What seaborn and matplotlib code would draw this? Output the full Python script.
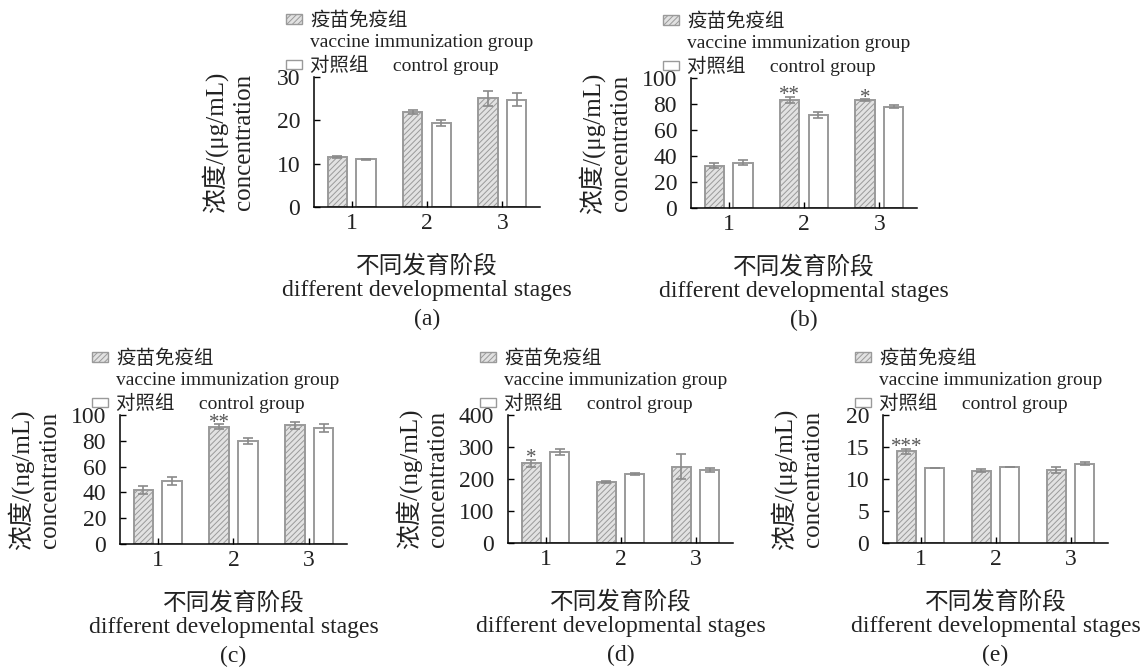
import matplotlib
matplotlib.use("Agg")
import matplotlib.pyplot as plt
import seaborn as sns
import pandas as pd
from matplotlib.patches import Patch

# ---- data -------------------------------------------------------------
stages = ["1", "2", "3"]
groups = ["疫苗免疫组", "对照组"]

# (a)
a_vacc = [11.6, 21.9, 25.1]
a_vacc_err = [0.2, 0.5, 1.7]
a_ctrl = [11.0, 19.4, 24.8]
a_ctrl_err = [0.1, 0.75, 1.55]
a_stars = ["", "", ""]

# (b)
b_vacc = [32.6, 83.3, 82.8]
b_vacc_err = [1.9, 2.2, 0.8]
b_ctrl = [35.0, 71.6, 77.9]
b_ctrl_err = [2.1, 2.2, 1.2]
b_stars = ["", "**", "*"]

# (c)
c_vacc = [41.9, 91.0, 92.0]
c_vacc_err = [2.8, 1.8, 2.6]
c_ctrl = [48.8, 80.1, 89.7]
c_ctrl_err = [2.8, 2.2, 3.1]
c_stars = ["", "**", ""]

# (d)
d_vacc = [249, 192, 239]
d_vacc_err = [10, 3, 39]
d_ctrl = [284, 216, 229]
d_ctrl_err = [10, 2, 6]
d_stars = ["*", "", ""]

# (e)
e_vacc = [14.3, 11.3, 11.4]
e_vacc_err = [0.4, 0.25, 0.4]
e_ctrl = [11.7, 11.85, 12.4]
e_ctrl_err = [0.05, 0.05, 0.25]
e_stars = ["***", "", ""]

units = {"a": "浓度/(μg/mL)", "b": "浓度/(μg/mL)", "c": "浓度/(ng/mL)",
         "d": "浓度/(ng/mL)", "e": "浓度/(μg/mL)"}
yticks = {"a": [0, 10, 20, 30], "b": [0, 20, 40, 60, 80, 100],
          "c": [0, 20, 40, 60, 80, 100], "d": [0, 100, 200, 300, 400],
          "e": [0, 5, 10, 15, 20]}

panels = {
    "a": (a_vacc, a_vacc_err, a_ctrl, a_ctrl_err, a_stars),
    "b": (b_vacc, b_vacc_err, b_ctrl, b_ctrl_err, b_stars),
    "c": (c_vacc, c_vacc_err, c_ctrl, c_ctrl_err, c_stars),
    "d": (d_vacc, d_vacc_err, d_ctrl, d_ctrl_err, d_stars),
    "e": (e_vacc, e_vacc_err, e_ctrl, e_ctrl_err, e_stars),
}

# ---- style ------------------------------------------------------------
sns.set_theme(style="white")
FAM = ["Liberation Serif", "Noto Sans CJK SC", "DejaVu Sans"]
plt.rcParams["font.family"] = FAM
plt.rcParams["hatch.linewidth"] = 0.7
plt.rcParams["hatch.color"] = "#8a8a8a"

EDGE = "#9a9a9a"
HATCH_FILL = "#e2e2e2"
ERR = "#8a8a8a"
TXT = "#222222"

W, H = 1148, 669
fig = plt.figure(figsize=(W / 100, H / 100), dpi=100)

# axes boxes in pixels: left, right, top, bottom
boxes = {
    "a": (314, 540, 77, 207),
    "b": (691, 917, 78, 208),
    "c": (120, 347, 415, 544),
    "d": (508, 733, 415, 543),
    "e": (883, 1108, 415, 543),
}

for key, (vacc, vacc_err, ctrl, ctrl_err, stars) in panels.items():
    l, r, t, b = boxes[key]
    ax = fig.add_axes([l / W, 1 - b / H, (r - l) / W, (b - t) / H])

    df = pd.DataFrame({
        "stage": stages * 2,
        "group": [groups[0]] * 3 + [groups[1]] * 3,
        "value": vacc + ctrl,
    })
    sns.barplot(data=df, x="stage", y="value", hue="group",
                order=stages, hue_order=groups,
                palette={groups[0]: HATCH_FILL, groups[1]: "white"},
                width=0.76, gap=0.32, errorbar=None,
                edgecolor=EDGE, linewidth=1.4, legend=False, ax=ax)

    for bar in ax.containers[0]:
        bar.set_hatch("//////")

    # error bars and significance marks
    for cont, vals, errs in ((ax.containers[0], vacc, vacc_err),
                             (ax.containers[1], ctrl, ctrl_err)):
        xs = [p.get_x() + p.get_width() / 2 for p in cont]
        ax.errorbar(xs, vals, yerr=errs, fmt="none", ecolor=ERR,
                    elinewidth=1.2, capsize=3.3, capthick=1.2, zorder=3)
    xs0 = [p.get_x() + p.get_width() / 2 for p in ax.containers[0]]
    for x, v, e, s in zip(xs0, vacc, vacc_err, stars):
        if s:
            ax.annotate(s, (x, v + e), xytext=(0, -6), textcoords="offset points",
                        ha="center", va="bottom", fontsize=15, color="#555555",
                        family="Liberation Serif")

    ticks = yticks[key]
    ax.set_ylim(ticks[0], ticks[-1])
    ax.set_yticks(ticks)
    ax.set_xlim(-0.5, 2.5)
    ax.set_xticks([0, 1, 2])
    ax.set_xticklabels(stages)

    for side in ("top", "right"):
        ax.spines[side].set_visible(False)
    for side in ("left", "bottom"):
        ax.spines[side].set_color("black")
        ax.spines[side].set_linewidth(1.1)

    ax.tick_params(axis="both", direction="in", length=4, width=1.0,
                   color="black", labelsize=17, labelcolor=TXT)
    ax.tick_params(axis="y", pad=10, left=True)
    ax.tick_params(axis="x", pad=4, bottom=True)
    for lab in ax.get_xticklabels() + ax.get_yticklabels():
        lab.set_family("Liberation Serif")

    ax.set_ylabel(units[key] + "\nconcentration", fontsize=18,
                  color=TXT, linespacing=1.3)
    ax.yaxis.set_label_coords(-59 / (r - l), 0.5)
    ax.set_xlabel("不同发育阶段\ndifferent developmental stages",
                  fontsize=17, color=TXT, linespacing=1.18, labelpad=15)
    ax.annotate("(" + key + ")", (0.5, 0), xycoords="axes fraction",
                xytext=(0, -112 * 0.72), textcoords="offset points",
                ha="center", va="center", fontsize=17, color=TXT,
                family="Liberation Serif")

    handles = [
        Patch(facecolor=HATCH_FILL, edgecolor=EDGE, hatch="//////", linewidth=1.0),
        Patch(facecolor="none", edgecolor="none"),
        Patch(facecolor="white", edgecolor=EDGE, linewidth=1.0),
    ]
    labels = ["疫苗免疫组", "vaccine immunization group",
              "对照组     control group"]
    ax.legend(handles, labels, loc="upper left",
              bbox_to_anchor=((l - 28) / W, 1 - (t - 66) / H),
              bbox_transform=fig.transFigure, frameon=False,
              prop={"family": FAM, "size": 14}, labelcolor=TXT,
              handlelength=0.8, handleheight=0.4, handletextpad=0.45,
              labelspacing=0.22, borderpad=0, borderaxespad=0)

fig.savefig("out.png", dpi=100, facecolor="white")
